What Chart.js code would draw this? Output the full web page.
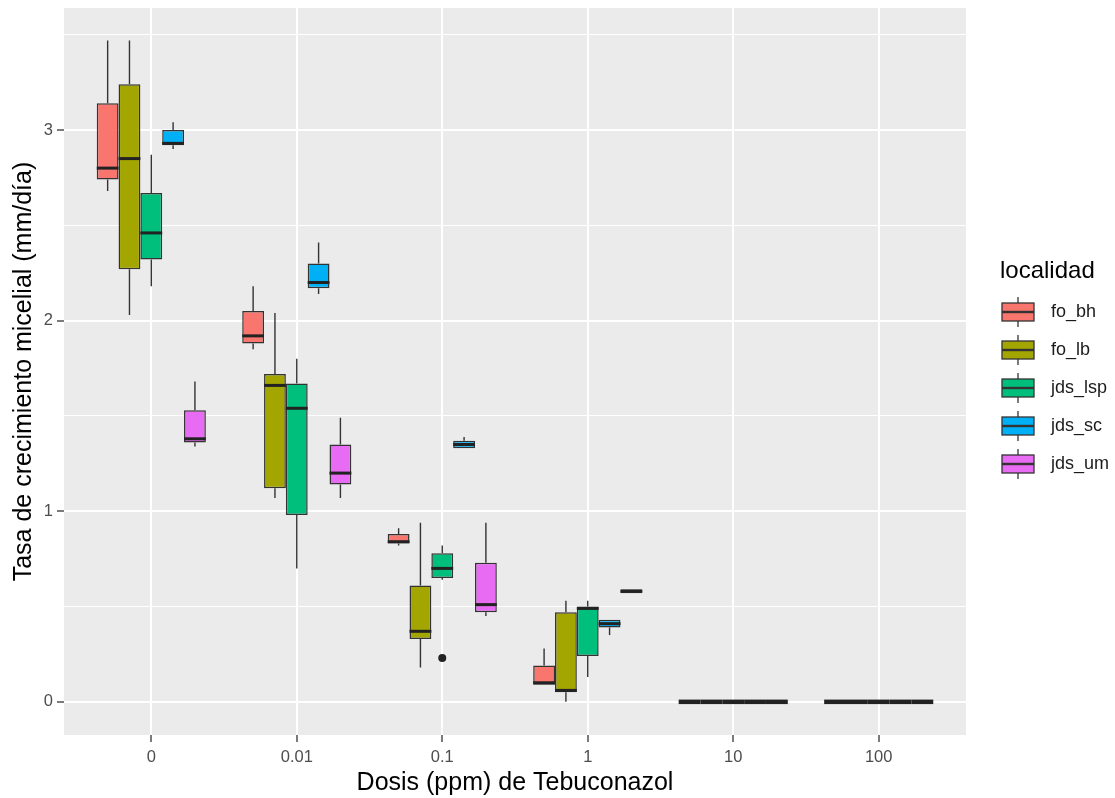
<!DOCTYPE html>
<html>
<head>
<meta charset="utf-8">
<script src="https://cdn.jsdelivr.net/npm/chart.js@4/dist/chart.umd.min.js"></script>
<style>
  html, body { margin: 0; padding: 0; background: #fff; }
  #wrap { width: 1115px; height: 798px; }
</style>
</head>
<body>
<div id="wrap"><canvas id="myChart" width="1115" height="798"></canvas></div>
<script>
// dose levels on the x axis
const dosis = ["0", "0.01", "0.1", "1", "10", "100"];
const localidades = ["fo_bh", "fo_lb", "jds_lsp", "jds_sc", "jds_um"];
const colores = ["#F8766D", "#A3A500", "#00BF7D", "#00B0F6", "#E76BF3"];
const yTicks = [0, 0.5, 1, 1.5, 2, 2.5, 3, 3.5];

// [min, q1, median, q3, max] per dose
const foBh = [[2.68, 2.74, 2.80, 3.14, 3.47], [1.85, 1.88, 1.92, 2.05, 2.18], [0.82, 0.83, 0.84, 0.88, 0.91], [0.09, 0.09, 0.10, 0.19, 0.28], [0, 0, 0, 0, 0], [0, 0, 0, 0, 0]];
const foLb = [[2.03, 2.27, 2.85, 3.24, 3.47], [1.07, 1.12, 1.66, 1.72, 2.04], [0.18, 0.33, 0.37, 0.61, 0.94], [0, 0.05, 0.06, 0.47, 0.53], [0, 0, 0, 0, 0], [0, 0, 0, 0, 0]];
const jdsLsp = [[2.18, 2.32, 2.46, 2.67, 2.87], [0.70, 0.98, 1.54, 1.67, 1.80], [0.64, 0.65, 0.70, 0.78, 0.82], [0.13, 0.24, 0.49, 0.50, 0.53], [0, 0, 0, 0, 0], [0, 0, 0, 0, 0]];
const jdsSc = [[2.90, 2.92, 2.93, 3.00, 3.04], [2.14, 2.17, 2.20, 2.30, 2.41], [1.33, 1.33, 1.35, 1.37, 1.39], [0.35, 0.39, 0.41, 0.43, 0.43], [0, 0, 0, 0, 0], [0, 0, 0, 0, 0]];
const jdsUm = [[1.34, 1.36, 1.38, 1.53, 1.68], [1.07, 1.14, 1.20, 1.35, 1.49], [0.45, 0.47, 0.51, 0.73, 0.94], [0.57, 0.57, 0.58, 0.59, 0.59], [0, 0, 0, 0, 0], [0, 0, 0, 0, 0]];

// outliers per dose
const foBhOut = [[], [], [], [], [], []];
const foLbOut = [[], [], [], [], [], []];
const jdsLspOut = [[], [], [0.23], [], [], []];
const jdsScOut = [[], [], [], [], [], []];
const jdsUmOut = [[], [], [], [], [], []];

const stats = [foBh, foLb, jdsLsp, jdsSc, jdsUm];
const outliers = [foBhOut, foLbOut, jdsLspOut, jdsScOut, jdsUmOut];

const LINE = "#333333";
const FONT = "'Liberation Sans', Arial, sans-serif";

const panelBg = {
  id: "panelBg",
  beforeDraw(chart) {
    const { ctx, chartArea: a } = chart;
    ctx.save();
    ctx.fillStyle = "#EBEBEB";
    ctx.fillRect(a.left, a.top, a.right - a.left, a.bottom - a.top);
    ctx.restore();
  },
};

// whiskers behind the boxes, medians and outliers on top
const boxParts = {
  id: "boxParts",
  beforeDatasetsDraw(chart) {
    const { ctx } = chart;
    const y = chart.scales.y;
    ctx.save();
    ctx.strokeStyle = LINE;
    ctx.lineWidth = 1.4;
    stats.forEach((s, i) => {
      chart.getDatasetMeta(i).data.forEach((bar, j) => {
        const [mn, q1, , q3, mx] = s[j];
        ctx.beginPath();
        ctx.moveTo(bar.x, y.getPixelForValue(mx));
        ctx.lineTo(bar.x, y.getPixelForValue(q3));
        ctx.moveTo(bar.x, y.getPixelForValue(q1));
        ctx.lineTo(bar.x, y.getPixelForValue(mn));
        ctx.stroke();
      });
    });
    ctx.restore();
  },
  afterDatasetsDraw(chart) {
    const { ctx } = chart;
    const y = chart.scales.y;
    ctx.save();
    stats.forEach((s, i) => {
      chart.getDatasetMeta(i).data.forEach((bar, j) => {
        const med = y.getPixelForValue(s[j][2]);
        const h = bar.width / 2;
        ctx.strokeStyle = "#222222";
        ctx.lineWidth = s[j][1] === s[j][3] ? 4.5 : 3;
        ctx.beginPath();
        ctx.moveTo(bar.x - h, med);
        ctx.lineTo(bar.x + h, med);
        ctx.stroke();
        ctx.fillStyle = "#222222";
        outliers[i][j].forEach((v) => {
          ctx.beginPath();
          ctx.arc(bar.x, y.getPixelForValue(v), 4, 0, Math.PI * 2);
          ctx.fill();
        });
      });
    });
    ctx.restore();
  },
};

const boxLegend = {
  id: "boxLegend",
  afterDraw(chart) {
    const { ctx } = chart;
    ctx.save();
    ctx.fillStyle = "#000";
    ctx.font = "24px " + FONT;
    ctx.textBaseline = "middle";
    ctx.fillText("localidad", 1000, 271);
    localidades.forEach((name, i) => {
      const cy = 312 + i * 38;
      const cx = 1018;
      ctx.strokeStyle = LINE;
      ctx.lineWidth = 1.3;
      ctx.beginPath();
      ctx.moveTo(cx, cy - 15);
      ctx.lineTo(cx, cy + 15);
      ctx.stroke();
      ctx.fillStyle = colores[i];
      ctx.fillRect(1002, cy - 9, 32, 18);
      ctx.strokeRect(1002, cy - 9, 32, 18);
      ctx.lineWidth = 2.4;
      ctx.beginPath();
      ctx.moveTo(1002, cy);
      ctx.lineTo(1034, cy);
      ctx.stroke();
      ctx.fillStyle = "#1A1A1A";
      ctx.font = "18px " + FONT;
      ctx.fillText(name, 1051, cy);
    });
    ctx.restore();
  },
};

const datasets = localidades.map((name, i) => ({
  label: name,
  data: stats[i].map((s, j) => ({ x: j, y: [s[1], s[3]] })),
  backgroundColor: colores[i],
  borderColor: LINE,
  borderWidth: 1.5,
  borderSkipped: false,
  categoryPercentage: 0.75,
  barPercentage: 1,
}));

new Chart(document.getElementById("myChart"), {
  type: "bar",
  data: { datasets },
  options: {
    responsive: false,
    animation: false,
    layout: { padding: { top: 8, right: 149, left: 0, bottom: 0 } },
    plugins: { legend: { display: false }, tooltip: { enabled: false } },
    scales: {
      x: {
        type: "linear",
        min: -0.6,
        max: 5.6,
        offset: false,
        afterBuildTicks: (scale) => { scale.ticks = dosis.map((_, i) => ({ value: i })); },
        afterFit: (scale) => {
          scale.height = 63;
          scale.paddingLeft = 0;
          scale.paddingRight = 0;
        },
        grid: { offset: false, color: "#FFFFFF", lineWidth: 2, tickColor: LINE, tickLength: 7, tickWidth: 1.3 },
        border: { display: false },
        ticks: {
          color: "#4D4D4D",
          font: { family: FONT, size: 16.5 },
          padding: 6,
          maxRotation: 0,
          callback: (v) => dosis[v],
        },
        title: {
          display: true,
          text: "Dosis (ppm) de Tebuconazol",
          color: "#000",
          font: { family: FONT, size: 25 },
          padding: { top: 0, bottom: 0 },
        },
      },
      y: {
        min: -0.174,
        max: 3.64,
        afterBuildTicks: (scale) => { scale.ticks = yTicks.map((v) => ({ value: v })); },
        afterFit: (scale) => {
          scale.width = 64;
          scale.paddingTop = 0;
          scale.paddingBottom = 0;
        },
        grid: {
          color: "#FFFFFF",
          lineWidth: (c) => (Number.isInteger(c.tick.value) ? 2 : 1),
          tickColor: (c) => (Number.isInteger(c.tick.value) ? LINE : "rgba(0,0,0,0)"),
          tickLength: 7,
          tickWidth: 1.3,
        },
        border: { display: false },
        ticks: {
          color: "#4D4D4D",
          font: { family: FONT, size: 16.5 },
          padding: 4,
          callback: (v) => (Number.isInteger(v) ? String(v) : ""),
        },
        title: {
          display: true,
          text: "Tasa de crecimiento micelial (mm/día)",
          color: "#000",
          font: { family: FONT, size: 25 },
          padding: { top: 9, bottom: 0 },
        },
      },
    },
  },
  plugins: [panelBg, boxParts, boxLegend],
});
</script>
</body>
</html>
